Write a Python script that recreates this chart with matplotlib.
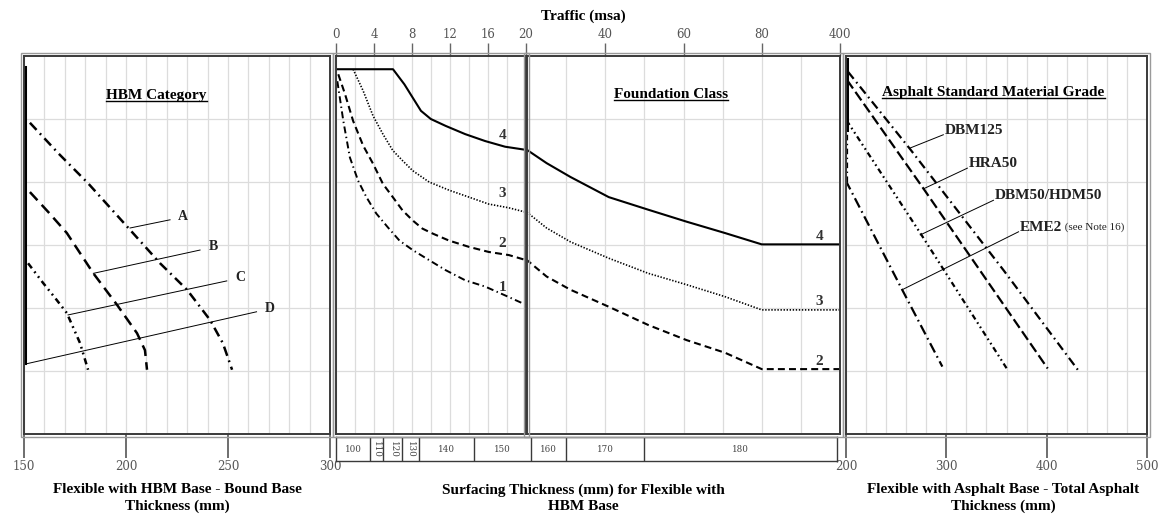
import numpy as np
import matplotlib
matplotlib.use('Agg')
import matplotlib.pyplot as plt
from matplotlib.patches import Rectangle
from matplotlib.lines import Line2D
from matplotlib.transforms import IdentityTransform

plt.rcParams['font.family'] = 'Liberation Serif'
plt.rcParams['lines.scale_dashes'] = False

# ---- HBM category (bound base thickness, mm) ----
hbm_names = ['A', 'B', 'C', 'D']
hbm_a_x = [152.9, 167, 181.4, 192, 202, 216.7, 229.9, 241.2, 247.5, 252]
hbm_a_y = [4.94, 4.45, 3.98, 3.6, 3.24, 2.71, 2.29, 1.81, 1.44, 1.02]
hbm_b_x = [152.9, 162, 171, 184, 195.6, 205.4, 209.3, 210.3]
hbm_b_y = [3.84, 3.52, 3.19, 2.55, 2.05, 1.6, 1.33, 1.02]
hbm_c_x = [152, 159.3, 165, 171, 177.5, 181.4]
hbm_c_y = [2.71, 2.4, 2.17, 1.92, 1.44, 1.02]
hbm_d_x = [150.6, 150.6]
hbm_d_y = [1.12, 5.83]
hbm_lead_x0 = [202, 184, 171.6, 150.6]
hbm_lead_y0 = [3.27, 2.55, 1.89, 1.11]
hbm_lead_x1 = [221.6, 236.3, 249.4, 264]
hbm_lead_y1 = [3.40, 2.92, 2.43, 1.94]

# ---- Foundation class curves (traffic, msa) ----
fc_names = ['4', '3', '2', '1']
fc4_t = [0, 6, 7.2, 8.07, 8.94, 9.98, 11.55, 13.6, 15.7, 17.8, 20,
         25, 31.1, 40.9, 51, 60.8, 70.6, 80, 400]
fc4_y = [5.79, 5.79, 5.55, 5.34, 5.13, 5.0, 4.89, 4.76, 4.65, 4.56, 4.51,
         4.3, 4.08, 3.76, 3.56, 3.37, 3.19, 3.01, 3.01]
fc3_t = [1.8, 2.85, 3.9, 4.94, 5.98, 7.0, 8.07, 9.8, 11.9, 14.0, 16.07, 18.2, 20,
         25, 31.1, 40.9, 51, 60.8, 70.6, 80, 400]
fc3_y = [5.79, 5.45, 5.05, 4.76, 4.5, 4.34, 4.18, 4.0, 3.87, 3.76, 3.65, 3.59, 3.52,
         3.27, 3.05, 2.79, 2.55, 2.37, 2.18, 1.97, 1.97]
fc2_t = [0.24, 0.94, 1.8, 2.85, 3.9, 4.94, 5.98, 7.0, 8.07, 9.1, 10.2, 11.9, 14.0,
         16.07, 18.2, 20, 25, 31.1, 40.9, 51, 60.8, 70.6, 80, 400]
fc2_y = [5.71, 5.4, 4.97, 4.58, 4.29, 3.97, 3.76, 3.55, 3.39, 3.26, 3.18, 3.07, 2.97,
         2.89, 2.84, 2.76, 2.5, 2.29, 2.02, 1.73, 1.49, 1.29, 1.03, 1.03]
fc1_t = [0.14, 0.77, 1.46, 2.33, 3.2, 4.24, 5.46, 6.68, 8.07, 9.8, 11.55, 13.6,
         15.7, 17.8, 20]
fc1_y = [5.6, 4.97, 4.39, 4.02, 3.76, 3.5, 3.28, 3.07, 2.92, 2.76, 2.6, 2.44,
         2.34, 2.2, 2.05]
fc_lab_left_y = [4.74, 3.81, 3.02, 2.33]
fc_lab_right_y = [3.13, 2.1, 1.15]

# ---- Surfacing thickness bands (mm) by traffic ----
surf_mm = [100, 110, 120, 130, 140, 150, 160, 170, 180]
surf_edges = [0, 3.6, 5, 7, 8.7, 14.5, 21, 30, 50, 400]

# ---- Asphalt grades (total asphalt thickness, mm) ----
asp_names = ['DBM125', 'HRA50', 'DBM50/HDM50', 'EME2']
dbm125_x = [202, 264, 357, 431]
dbm125_y = [5.75, 4.52, 2.6, 1.02]
hra50_x = [201, 277, 401]
hra50_y = [5.62, 3.9, 1.04]
dbm50_x = [200.5, 274, 361]
dbm50_y = [4.98, 3.19, 1.02]
eme2_x = [199.5, 256, 296]
eme2_y = [4.03, 2.29, 1.07]
asp_lead_x0 = [264, 277, 274, 256]
asp_lead_y0 = [4.54, 3.89, 3.16, 2.29]
asp_lead_x1 = [297, 321, 347, 372]
asp_lead_y1 = [4.75, 4.22, 3.71, 3.21]

W, H = 1164, 515
fig = plt.figure(figsize=(W / 100, H / 100), dpi=100)


def px_axes(x0, x1, ytop, ybot):
    return fig.add_axes([x0 / W, 1 - ybot / H, (x1 - x0) / W, (ybot - ytop) / H])


ax_l = px_axes(24, 330, 56, 434)
ax_ml = px_axes(336, 526, 56, 434)
ax_mr = px_axes(527, 840, 56, 434)
ax_r = px_axes(846, 1147, 56, 434)


def fwd(t):
    t = np.asarray(t, dtype=float)
    return np.where(t <= 80, t, 80 + (t - 80) / 16.0)


def inv(p):
    p = np.asarray(p, dtype=float)
    return np.where(p <= 80, p, 80 + (p - 80) * 16.0)


ax_mr.set_xscale('function', functions=(fwd, inv))

ax_l.set_xlim(150, 300)
ax_ml.set_xlim(0, 20)
ax_mr.set_xlim(20, 400)
ax_r.set_xlim(200, 500)

ax_l.set_xticks([150, 200, 250, 300])
ax_l.set_xticks(np.arange(160, 300, 10), minor=True)
ax_ml.set_xticks([0, 4, 8, 12, 16, 20])
ax_ml.set_xticks(np.arange(2, 20, 2), minor=True)
ax_mr.set_xticks([40, 60, 80, 400])
ax_mr.set_xticks([30, 50, 70, 240], minor=True)
ax_r.set_xticks([200, 300, 400, 500])
ax_r.set_xticks(np.arange(220, 500, 20), minor=True)

for ax in [ax_l, ax_ml, ax_mr, ax_r]:
    ax.set_ylim(0, 6)
    ax.set_yticks(range(1, 6))
    ax.tick_params(axis='y', length=0, labelleft=False)
    ax.tick_params(axis='x', which='minor', length=0)
    ax.grid(True, which='both', color='#dcdcdc', lw=0.9, zorder=0)
    for s in ax.spines.values():
        s.set_color('#3a3a3a')
        s.set_linewidth(1.4)

for ax in [ax_ml, ax_mr]:
    ax.xaxis.set_ticks_position('top')
    ax.tick_params(axis='x', which='major', direction='out', length=9.5, width=1.0,
                   color='#666', labelsize=8.5, labelcolor='#555', pad=1.5)
for ax in [ax_l, ax_r]:
    ax.tick_params(axis='x', which='major', direction='out', length=17, width=1.2,
                   color='#555', labelsize=8.5, labelcolor='#555', pad=1.5)
ax_mr.set_xticklabels(['40', '60', '80', '400'])
for ax in [ax_l, ax_ml, ax_mr, ax_r]:
    for lbl in ax.get_xticklabels():
        lbl.set_fontfamily('DejaVu Serif')

# outer grey frame for each panel
for ax in [ax_l, ax_ml, ax_mr, ax_r]:
    bb = ax.get_position()
    x0, y0 = bb.x0 * W - 3, bb.y0 * H - 2.5
    fig.add_artist(Rectangle((x0, y0), bb.width * W + 6, bb.height * H + 6,
                             transform=IdentityTransform(), fill=False,
                             ec='#9a9a9a', lw=1.0))

# ---- HBM panel ----
ax_l.plot(hbm_a_x, hbm_a_y, color='k', lw=1.8, ls=(0, (7, 3.5, 1.3, 3.5)))
ax_l.plot(hbm_b_x, hbm_b_y, color='k', lw=1.8, ls=(0, (8, 4.5)))
ax_l.plot(hbm_c_x, hbm_c_y, color='k', lw=1.8, ls=(0, (4.5, 3, 1.3, 3, 1.3, 3)))
ax_l.plot(hbm_d_x, hbm_d_y, color='k', lw=2.2)
for i, name in enumerate(hbm_names):
    ax_l.plot([hbm_lead_x0[i], hbm_lead_x1[i]], [hbm_lead_y0[i], hbm_lead_y1[i]],
              color='k', lw=0.7)
    ax_l.text(hbm_lead_x1[i] + 6.5, hbm_lead_y1[i] + 0.06, name, fontsize=10,
              fontweight='bold', ha='center', va='center', color='#222')

# ---- Foundation class panels ----
fc_styles = [dict(ls='-', lw=1.5), dict(ls=(0, (1, 1.2)), lw=1.2),
             dict(ls=(0, (5, 3)), lw=1.5), dict(ls=(0, (5, 2.5, 1, 2.5)), lw=1.4)]
fc_data = [(fc4_t, fc4_y), (fc3_t, fc3_y), (fc2_t, fc2_y), (fc1_t, fc1_y)]
for ax in [ax_ml, ax_mr]:
    for (t, y), st in zip(fc_data, fc_styles):
        ax.plot(t, y, color='k', **st)
for name, y in zip(fc_names, fc_lab_left_y):
    ax_ml.text(17.5, y, name, fontsize=11, fontweight='bold', color='#333',
               ha='center', va='center')
for name, y in zip(fc_names[:3], fc_lab_right_y):
    ax_mr.text(315, y, name, fontsize=11, fontweight='bold', color='#333',
               ha='center', va='center')

# ---- Asphalt panel ----
ax_r.plot([201, 201], [4.83, 5.95], color='k', lw=2.2)
ax_r.plot([200.6, 200.6], [4.0, 4.83], color='k', lw=1.6, ls=(0, (4, 2.5, 1, 2.5)))
ax_r.plot(dbm125_x, dbm125_y, color='k', lw=1.6, ls=(0, (6.5, 3, 1.2, 3)))
ax_r.plot(hra50_x, hra50_y, color='k', lw=1.6, ls=(0, (7.5, 3)))
ax_r.plot(dbm50_x, dbm50_y, color='k', lw=1.6, ls=(0, (4, 2.5, 1.2, 2.5, 1.2, 2.5)))
ax_r.plot(eme2_x, eme2_y, color='k', lw=1.6, ls=(0, (7.5, 3, 1.2, 3)))
for i, name in enumerate(asp_names):
    ax_r.plot([asp_lead_x0[i], asp_lead_x1[i]], [asp_lead_y0[i], asp_lead_y1[i]],
              color='k', lw=0.7)
    t = ax_r.text(asp_lead_x1[i] + 1.5, asp_lead_y1[i] + 0.07, name, fontsize=11,
                  fontweight='bold', ha='left', va='center', color='#222')
    if name == 'EME2':
        ax_r.annotate(' (see Note 16)', xy=(1, 0.5), xycoords=t, fontsize=8,
                      ha='left', va='center', color='#222')

# ---- panel titles (underlined) ----
titles = [ax_l.text(215, 5.32, 'HBM Category', fontsize=11, fontweight='bold',
                    ha='center', va='baseline'),
          ax_mr.text(56.9, 5.33, 'Foundation Class', fontsize=11, fontweight='bold',
                     ha='center', va='baseline'),
          ax_r.text(347, 5.36, 'Asphalt Standard Material Grade', fontsize=11,
                    fontweight='bold', ha='center', va='baseline')]

# ---- surfacing thickness strip ----
def traffic_px(t):
    ax = ax_ml if t <= 20 else ax_mr
    return ax.transData.transform((t, 0))[0]


px0, px1 = traffic_px(0), traffic_px(400) - 3
ax_s = px_axes(px0, px1, 437, 461)
ax_s.set_xlim(px0, px1)
ax_s.set_ylim(0, 1)
ax_s.set_xticks([])
ax_s.set_yticks([])
for s in ax_s.spines.values():
    s.set_color('#3a3a3a')
    s.set_linewidth(1.0)
edges_px = [traffic_px(t) for t in surf_edges]
edges_px[-1] = px1
for e in edges_px[1:-1]:
    ax_s.axvline(e, color='#3a3a3a', lw=1.0)
for i, mm in enumerate(surf_mm):
    a, b = edges_px[i], edges_px[i + 1]
    rot = 270 if b - a < 20 else 0
    ax_s.text((a + b) / 2, 0.5, str(mm), fontsize=6.3, family='DejaVu Serif',
              color='#444', ha='center', va='center', rotation=rot)

# ---- figure labels ----
fig.text(583 / W, 1 - 16 / H, 'Traffic (msa)', fontsize=11, fontweight='bold',
         ha='center', va='center')
fig.text(177 / W, 1 - 498 / H, 'Flexible with HBM Base - Bound Base\nThickness (mm)',
         fontsize=11, fontweight='bold', ha='center', va='center', linespacing=1.3)
fig.text(583 / W, 1 - 498 / H, 'Surfacing Thickness (mm) for Flexible with\nHBM Base',
         fontsize=11, fontweight='bold', ha='center', va='center', linespacing=1.3)
fig.text(1003 / W, 1 - 498 / H, 'Flexible with Asphalt Base - Total Asphalt\nThickness (mm)',
         fontsize=11, fontweight='bold', ha='center', va='center', linespacing=1.3)

fig.canvas.draw()
r = fig.canvas.get_renderer()
for t in titles:
    bb = t.get_window_extent(r)
    ybase = t.axes.transData.transform(t.get_position())[1] - 2
    fig.add_artist(Line2D([bb.x0, bb.x1], [ybase, ybase], transform=IdentityTransform(),
                          color='k', lw=1.0))

fig.savefig('out.png', dpi=100)
